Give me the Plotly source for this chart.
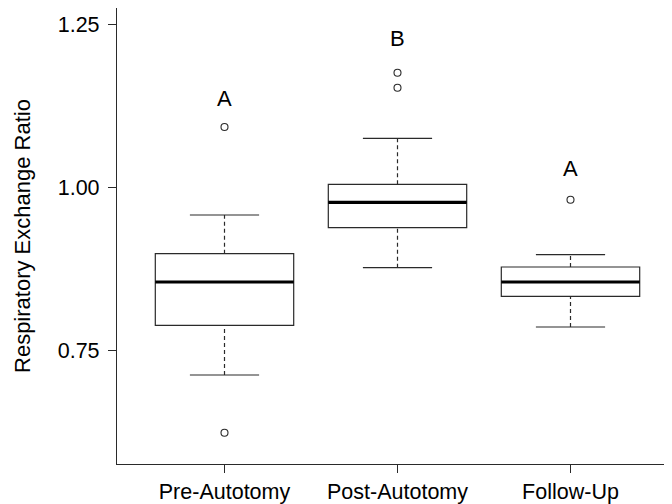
import plotly.graph_objects as go

categories = ["Pre-Autotomy", "Post-Autotomy", "Follow-Up"]
q1 = [0.788, 0.938, 0.8325]
median = [0.8545, 0.9768, 0.8545]
q3 = [0.898, 1.0044, 0.8775]
whisker_low = [0.7117, 0.8764, 0.7854]
whisker_high = [0.9573, 1.0751, 0.8964]
outliers = [[1.0924, 0.6231], [1.1758, 1.1527], [0.9808]]
group_letters = ["A", "B", "A"]
letter_y = [1.1365, 1.2286, 1.029]
y_ticks = [0.75, 1.00, 1.25]
y_ticktext = ["0.75", "1.00", "1.25"]

LINE = "#2a2a2a"
FONT = "Liberation Sans, Arial, sans-serif"
box_w = 0.8
cap_half = 0.2

fig = go.Figure()
for i, cat in enumerate(categories):
    fig.add_trace(go.Box(
        x=[i], q1=[q1[i]], median=[median[i]], q3=[q3[i]],
        lowerfence=[q1[i]], upperfence=[q3[i]],
        width=box_w, whiskerwidth=0,
        fillcolor="white", line=dict(color=LINE, width=1.2),
        boxpoints=False, showlegend=False, hoverinfo="skip"))
    # median thick line
    fig.add_trace(go.Scatter(
        x=[i - box_w / 2, i + box_w / 2], y=[median[i], median[i]],
        mode="lines", line=dict(color="black", width=3.2),
        showlegend=False, hoverinfo="skip"))
    # dashed whiskers
    for a, b in [(whisker_low[i], q1[i]), (q3[i], whisker_high[i])]:
        fig.add_trace(go.Scatter(
            x=[i, i], y=[a, b], mode="lines",
            line=dict(color=LINE, width=1.2, dash="4px,3px"),
            showlegend=False, hoverinfo="skip"))
    # caps
    for w in [whisker_low[i], whisker_high[i]]:
        fig.add_trace(go.Scatter(
            x=[i - cap_half, i + cap_half], y=[w, w], mode="lines",
            line=dict(color=LINE, width=1.2),
            showlegend=False, hoverinfo="skip"))
    # outliers
    fig.add_trace(go.Scatter(
        x=[i] * len(outliers[i]), y=outliers[i], mode="markers",
        marker=dict(symbol="circle-open", size=7, color=LINE, line=dict(width=1.1)),
        showlegend=False, hoverinfo="skip"))
    fig.add_annotation(x=i, y=letter_y[i], text=group_letters[i], showarrow=False,
                       font=dict(family=FONT, size=22, color="black"),
                       xanchor="center", yanchor="middle")

fig.add_annotation(xref="paper", yref="paper", x=-0.1712, y=0.5,
                   text="Respiratory Exchange Ratio", textangle=-90, showarrow=False,
                   font=dict(family=FONT, size=22, color="black"),
                   xanchor="center", yanchor="middle")

fig.update_layout(
    width=664, height=496,
    margin=dict(l=109, r=0, t=0, b=40),
    paper_bgcolor="white", plot_bgcolor="white",
    font=dict(family=FONT, size=21.5, color="black"),
    xaxis=dict(range=[-0.6214, 2.5867], tickvals=[0, 1, 2], ticktext=categories,
               showline=True, linecolor=LINE, linewidth=1.2, ticks="outside",
               ticklen=8, tickcolor=LINE, tickwidth=1.2, showgrid=False,
               zeroline=False, tickfont=dict(family=FONT, size=21.5, color="black")),
    yaxis=dict(range=[0.5751, 1.2751], tickvals=y_ticks, ticktext=y_ticktext,
               showline=True, linecolor=LINE, linewidth=1.2, ticks="outside",
               ticklen=8, tickcolor=LINE, tickwidth=1.2, showgrid=False,
               ticklabelstandoff=4,
               zeroline=False, tickfont=dict(family=FONT, size=21.5, color="black")),
)

fig.write_html("out.html")
